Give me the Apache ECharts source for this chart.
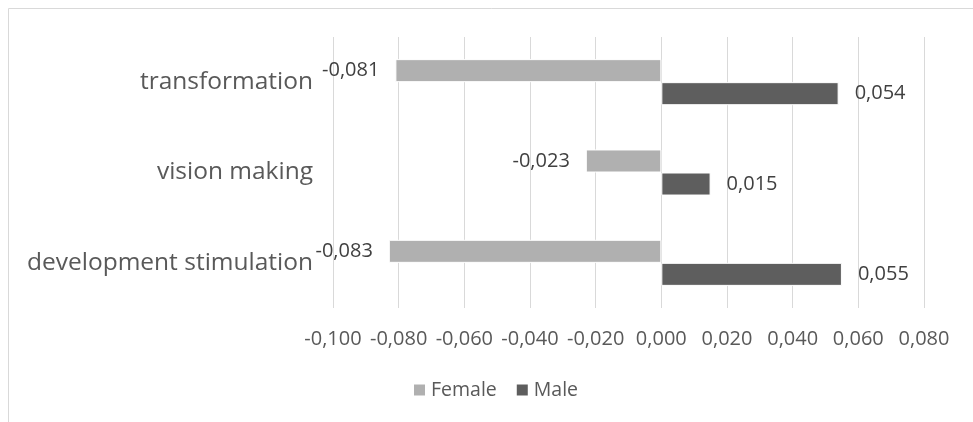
<!DOCTYPE html>
<html>
<head>
<meta charset="utf-8">
<script src="https://cdn.jsdelivr.net/npm/echarts@6/dist/echarts.min.js"></script>
<style>
  html, body { margin: 0; padding: 0; background: #fff; }
  #chart { width: 973px; height: 422px; }
</style>
</head>
<body>
<div id="chart"></div>
<script>
// categories from bottom to top
var categories = ['development stimulation', 'vision making', 'transformation'];
var female = [-0.083, -0.023, -0.081];
var male = [0.055, 0.015, 0.054];

function fmt(v) {
  return v.toFixed(3).replace('.', ',');
}

var chart = echarts.init(document.getElementById('chart'));
chart.setOption({
  animation: false,
  textStyle: { fontFamily: 'Open Sans' },
  graphic: [{
    type: 'rect',
    shape: { x: 8.5, y: 8.5, width: 1000, height: 500 },
    style: { fill: 'none', stroke: '#d9d9d9', lineWidth: 1 },
    silent: true
  }],
  grid: { left: 333, right: 49, top: 37, bottom: 114 },
  legend: {
    bottom: 17,
    left: 407,
    icon: 'rect',
    itemWidth: 13,
    itemHeight: 13,
    itemGap: 18,
    textStyle: { color: '#595959', fontSize: 19.5 },
    data: ['Female', 'Male']
  },
  xAxis: {
    type: 'value',
    min: -0.1,
    max: 0.08,
    interval: 0.02,
    axisLine: { show: false },
    axisTick: { show: false },
    splitLine: { lineStyle: { color: '#d9d9d9' } },
    axisLabel: {
      color: '#595959',
      fontSize: 20,
      margin: 21,
      formatter: function (v) { return fmt(v); }
    }
  },
  yAxis: {
    type: 'category',
    data: categories,
    axisLine: { show: false },
    axisTick: { show: false },
    axisLabel: { color: '#595959', fontSize: 24.5, margin: 20 }
  },
  series: [
    {
      name: 'Female',
      type: 'bar',
      data: female,
      barGap: '0%',
      barCategoryGap: '49%',
      itemStyle: { color: '#b0b0b0', borderColor: '#fff', borderWidth: 1 },
      label: {
        show: true,
        position: 'left',
        distance: 16,
        color: '#404040',
        fontSize: 20,
        formatter: function (p) { return fmt(p.value); }
      }
    },
    {
      name: 'Male',
      type: 'bar',
      data: male,
      barGap: '0%',
      barCategoryGap: '49%',
      itemStyle: { color: '#5e5e5e', borderColor: '#fff', borderWidth: 1 },
      label: {
        show: true,
        position: 'right',
        distance: 16,
        color: '#404040',
        fontSize: 20,
        formatter: function (p) { return fmt(p.value); }
      }
    }
  ]
});
</script>
</body>
</html>
